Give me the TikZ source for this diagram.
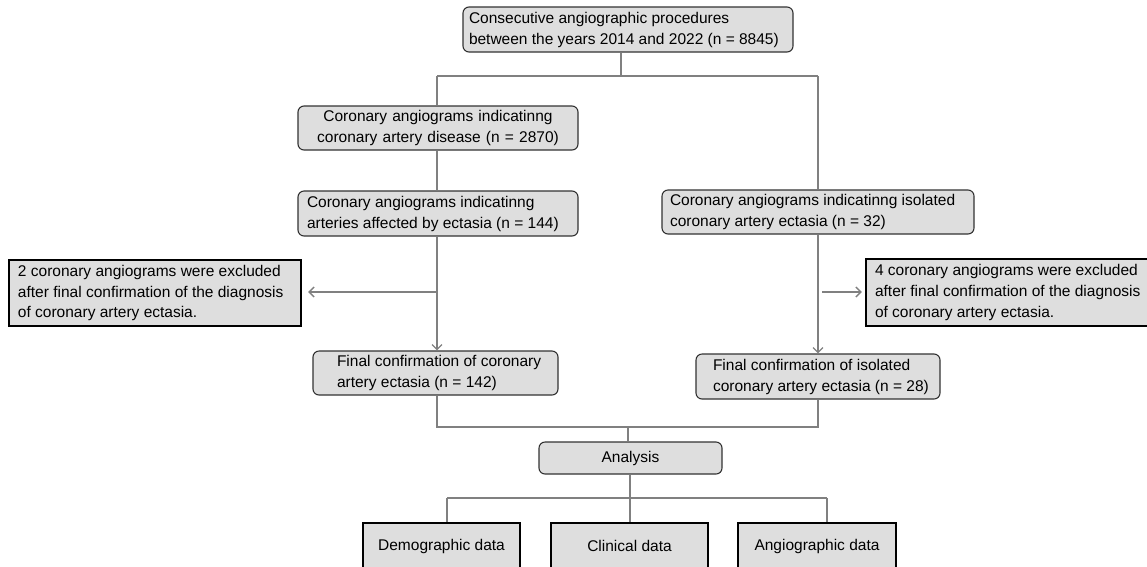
\documentclass[tikz,border=0pt]{standalone}
\usepackage{fontspec}
\setmainfont{Liberation Sans}
\usetikzlibrary{arrows.meta,calc}
\definecolor{boxgray}{RGB}{222,222,222}
\definecolor{linegray}{RGB}{128,128,128}
\definecolor{rborder}{RGB}{50,50,50}
\newcommand{\padtext}[3]{\makebox[#1][l]{\hspace*{#2}\begin{tabular}{@{}l@{}}#3\end{tabular}}}
\begin{document}
\begin{tikzpicture}[x=1pt,y=-1pt,
  font=\fontsize{15.5pt}{20.8pt}\selectfont,
  rbox/.style={draw=rborder, line width=1.1pt, rounded corners=6pt, fill=boxgray, inner sep=0pt},
  xbox/.style={draw=black, line width=2.4pt, fill=boxgray, inner sep=0pt},
  dbox/.style={draw=black, line width=1.8pt, fill=boxgray, inner sep=0pt, align=center},
  conn/.style={draw=linegray, line width=1.3pt},
  arr/.style={conn, -{Straight Barb[length=5pt,width=10pt]}},
]
\useasboundingbox (0,0) rectangle (1147,566);
\clip (0,0) rectangle (1147,566);

% boxes
\node[rbox, minimum width=330pt, minimum height=45pt] (top) at (628,29.5)
  {\padtext{330pt}{6pt}{Consecutive angiographic procedures\\between the years 2014 and 2022 (n = 8845)}};
\node[rbox, minimum width=280pt, minimum height=44pt, text width=280pt, align=center] (cad) at (438,128)
  {Coronary angiograms indicatinng\\coronary artery disease (n = 2870)};
\node[rbox, minimum width=280pt, minimum height=45pt] (ect) at (438,213.5)
  {\padtext{280pt}{9pt}{Coronary angiograms indicatinng\\arteries affected by ectasia (n = 144)}};
\node[rbox, minimum width=312pt, minimum height=44pt] (iso) at (818,212)
  {\padtext{312pt}{8pt}{Coronary angiograms indicatinng isolated\\coronary artery ectasia (n = 32)}};
\node[xbox, minimum width=292pt, minimum height=66pt] (exL) at (155,293)
  {\padtext{292pt}{9pt}{2 coronary angiograms were excluded\\after final confirmation of the diagnosis\\of coronary artery ectasia.}};
\node[xbox, minimum width=292pt, minimum height=67pt] (exR) at (1012,292.5)
  {\padtext{292pt}{9pt}{4 coronary angiograms were excluded\\after final confirmation of the diagnosis\\of coronary artery ectasia.}};
\node[rbox, minimum width=245pt, minimum height=44pt] (f142) at (435.5,373)
  {\padtext{245pt}{24pt}{Final confirmation of coronary\\artery ectasia (n = 142)}};
\node[rbox, minimum width=244pt, minimum height=45pt] (f28) at (818,376.5)
  {\padtext{244pt}{17pt}{Final confirmation of isolated\\coronary artery ectasia (n = 28)}};
\node[rbox, minimum width=183pt, minimum height=32pt, align=center] (ana) at (630.5,458) {Analysis};
\node[dbox, minimum width=157pt, minimum height=46pt] (demo) at (441.5,546) {Demographic data};
\node[dbox, minimum width=157pt, minimum height=46pt] (clin) at (629.5,546) {Clinical data};
\node[dbox, minimum width=158pt, minimum height=46pt] (angio) at (817,546) {Angiographic data};

% junction points
\coordinate (j1) at (621,76);
\coordinate (jL) at (437,76);
\coordinate (jR) at (818,76);
\coordinate (bL) at (437,292);
\coordinate (bR) at (818,292);
\coordinate (mL) at (437,427);
\coordinate (mR) at (818,427);
\coordinate (mC) at (628,427);
\coordinate (lC) at (630,498);
\coordinate (lL) at (447,498);
\coordinate (lR) at (827,498);

% connectors
\draw[conn] (top.south -| j1) -- (j1);
\draw[conn] (jL) -- (jR);
\draw[conn] (jL) -- (cad.north -| jL);
\draw[conn] (cad.south -| jL) -- (ect.north -| jL);
\draw[arr] (ect.south -| jL) -- (f142.north -| jL);
\draw[arr, shorten >=6pt] (bL) -- (bL -| exL.east);
\draw[conn] (jR) -- (iso.north -| jR);
\draw[arr] (iso.south -| jR) -- (f28.north -| jR);
\draw[arr, shorten <=4pt, shorten >=3pt] (bR) -- (bR -| exR.west);
\draw[conn] (f142.south -| mL) -- (mL) -- (mR) -- (f28.south -| mR);
\draw[conn] (mC) -- (mC |- ana.north);
\draw[conn] (ana.south -| lC) -- (lC);
\draw[conn] (lL) -- (lR);
\draw[conn] (lL) -- (lL |- demo.north);
\draw[conn] (lC) -- (lC |- clin.north);
\draw[conn] (lR) -- (lR |- angio.north);
\end{tikzpicture}
\end{document}
